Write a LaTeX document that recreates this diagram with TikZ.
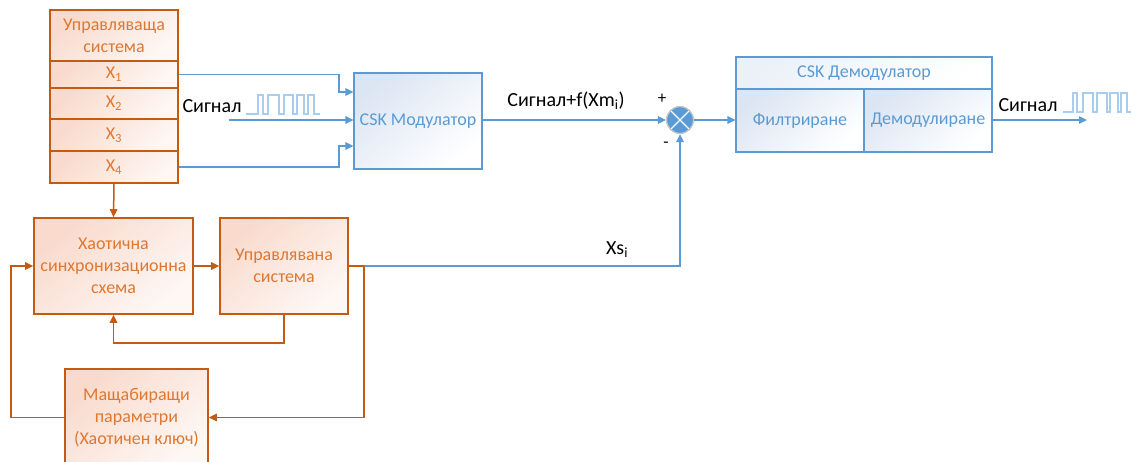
\documentclass[tikz,border=0pt]{standalone}
\usepackage{fontspec}
\setmainfont{Carlito}
\usetikzlibrary{arrows.meta,calc}
\definecolor{orborder}{HTML}{C55A11}
\definecolor{ortext}{HTML}{E0782F}
\definecolor{orfill}{HTML}{F9DACC}
\definecolor{blline}{HTML}{5B9BD5}
\definecolor{bltext}{HTML}{5B9BD5}
\definecolor{blfill}{HTML}{DCE5F3}
\definecolor{pulse}{HTML}{A9CDEB}
\definecolor{circborder}{HTML}{C8C8C8}
\tikzset{
  obox/.style={draw=orborder, line width=1.6pt, top color=orfill, bottom color=orfill!20!white, shading angle=40,
    text=ortext, font=\fontsize{18}{22}\selectfont, align=center, inner sep=0pt},
  bbox/.style={draw=blline, line width=1.1pt, top color=blfill, bottom color=white, shading angle=40,
    text=bltext, font=\fontsize{18}{22}\selectfont, align=center, inner sep=0pt},
  oarr/.style={draw=orborder, line width=1.5pt, -{Triangle[length=8pt,width=7.5pt]}},
  oline/.style={draw=orborder, line width=1.5pt},
  barr/.style={draw=blline, line width=1.5pt, -{Triangle[length=8pt,width=7.5pt]}},
  bline/.style={draw=blline, line width=1.5pt},
  lbl/.style={font=\fontsize{20}{24}\selectfont, text=black, inner sep=0pt},
  wave/.style={draw=pulse, line width=1.1pt}
}
\begin{document}
\begin{tikzpicture}[x=1pt,y=-1pt]
\useasboundingbox (0,0) rectangle (1131,461);
% control system
\node[obox, minimum width=128pt, minimum height=51pt] (ctl) at (114,35.5) {Управляваща\\система};
\node[obox, minimum width=128pt, minimum height=27pt] (x1) at (114,74.5) {X\textsubscript{1}};
\node[obox, minimum width=128pt, minimum height=31pt] (x2) at (114,103.5) {X\textsubscript{2}};
\node[obox, minimum width=128pt, minimum height=32pt] (x3) at (114,135) {X\textsubscript{3}};
\node[obox, minimum width=128pt, minimum height=32pt] (x4) at (114,167) {X\textsubscript{4}};
% lower blocks
\node[obox, minimum width=159pt, minimum height=96pt] (chaos) at (113.5,266) {Хаотична\\синхронизационна\\схема};
\node[obox, minimum width=128pt, minimum height=96pt] (ctrld) at (284,266) {Управлявана\\система};
\node[obox, minimum width=143pt, minimum height=97pt] (scale) at (136.5,417.5) {Мащабиращи\\параметри\\(Хаотичен ключ)};
% modulator
\node[bbox, minimum width=128pt, minimum height=96pt] (mod) at (418,121) {CSK Модулатор};
% summing junction
\node[circle, draw=circborder, line width=1.3pt, fill=blline, minimum size=27pt, inner sep=0pt] (circ) at (680,120) {};
\draw[white, line width=1.3pt] ($(circ.center)+(-9,-9)$) -- ($(circ.center)+(9,9)$);
\draw[white, line width=1.3pt] ($(circ.center)+(-9,9)$) -- ($(circ.center)+(9,-9)$);
% demodulator
\node[bbox, minimum width=256pt, minimum height=32pt, top color=blfill!55!white, shading angle=40] (dhead) at (864,73) {CSK Демодулатор};
\node[bbox, minimum width=128pt, minimum height=63pt] (filt) at (800,120.5) {Филтриране};
\node[bbox, minimum width=128pt, minimum height=63pt] (dem) at (928,120.5) {Демодулиране};
% coordinates
\coordinate (sigin) at (229,120);
\coordinate (out) at (1087,120);
\coordinate (split) at (364,266);
% connectors blue
\draw[barr] (x1.east) -- ++(160,0) |- ($(mod.west)+(0,-29)$);
\draw[barr] (x4.east) -- ++(160,0) |- ($(mod.west)+(0,25)$);
\draw[barr] (sigin) -- (sigin -| mod.west);
\draw[barr] (mod.east |- circ.west) -- (circ.west);
\draw[barr] (circ.east) -- (circ.east -| filt.west);
\draw[barr] (dem.east |- out) -- (out);
\draw[barr] (split) -| (circ.south);
% connectors orange
\draw[oarr] (x4.south) -- (chaos.north);
\draw[oarr] (chaos.east) -- (ctrld.west);
\draw[oarr] (ctrld.south) -- ++(0,28) -| (chaos.south);
\draw[oline] (ctrld.east) -- (split);
\draw[oarr] (split) |- (scale.east);
\draw[oarr] (scale.west) -- ++(-53,0) |- (chaos.west);
% labels
\node[lbl] (l1) at (212,106) {Сигнал};
\node[lbl] (l2) at (566,101) {Сигнал+f(Xm\textsubscript{i})};
\node[lbl] (l3) at (617,250) {Xs\textsubscript{i}};
\node[lbl] (l4) at (1028,105) {Сигнал};
\node[lbl, font=\fontsize{17}{20}\selectfont] (pl) at (662,99) {+};
\node[lbl, font=\fontsize{17}{20}\selectfont] (mi) at (666,145) {-};
% pulse waves
\draw[wave] (246,114) -- (258,114) -- (258,95) -- (263,95) -- (263,114) -- (268,114) -- (268,95) -- (279,95) -- (279,114) -- (284,114) -- (284,95) -- (293,95) -- (293,114) -- (297,114) -- (297,95) -- (304,95) -- (304,114) -- (308,114) -- (308,95) -- (314,95) -- (314,114) -- (320,114);
\draw[wave] (1063,112) -- (1073,112) -- (1073,93) -- (1077,93) -- (1077,112) -- (1083,112) -- (1083,93) -- (1093,93) -- (1093,112) -- (1097,112) -- (1097,93) -- (1107,93) -- (1107,112) -- (1110,112) -- (1110,93) -- (1118,93) -- (1118,112) -- (1121,112) -- (1121,93) -- (1127,93) -- (1127,112) -- (1131,112);
\end{tikzpicture}
\end{document}
